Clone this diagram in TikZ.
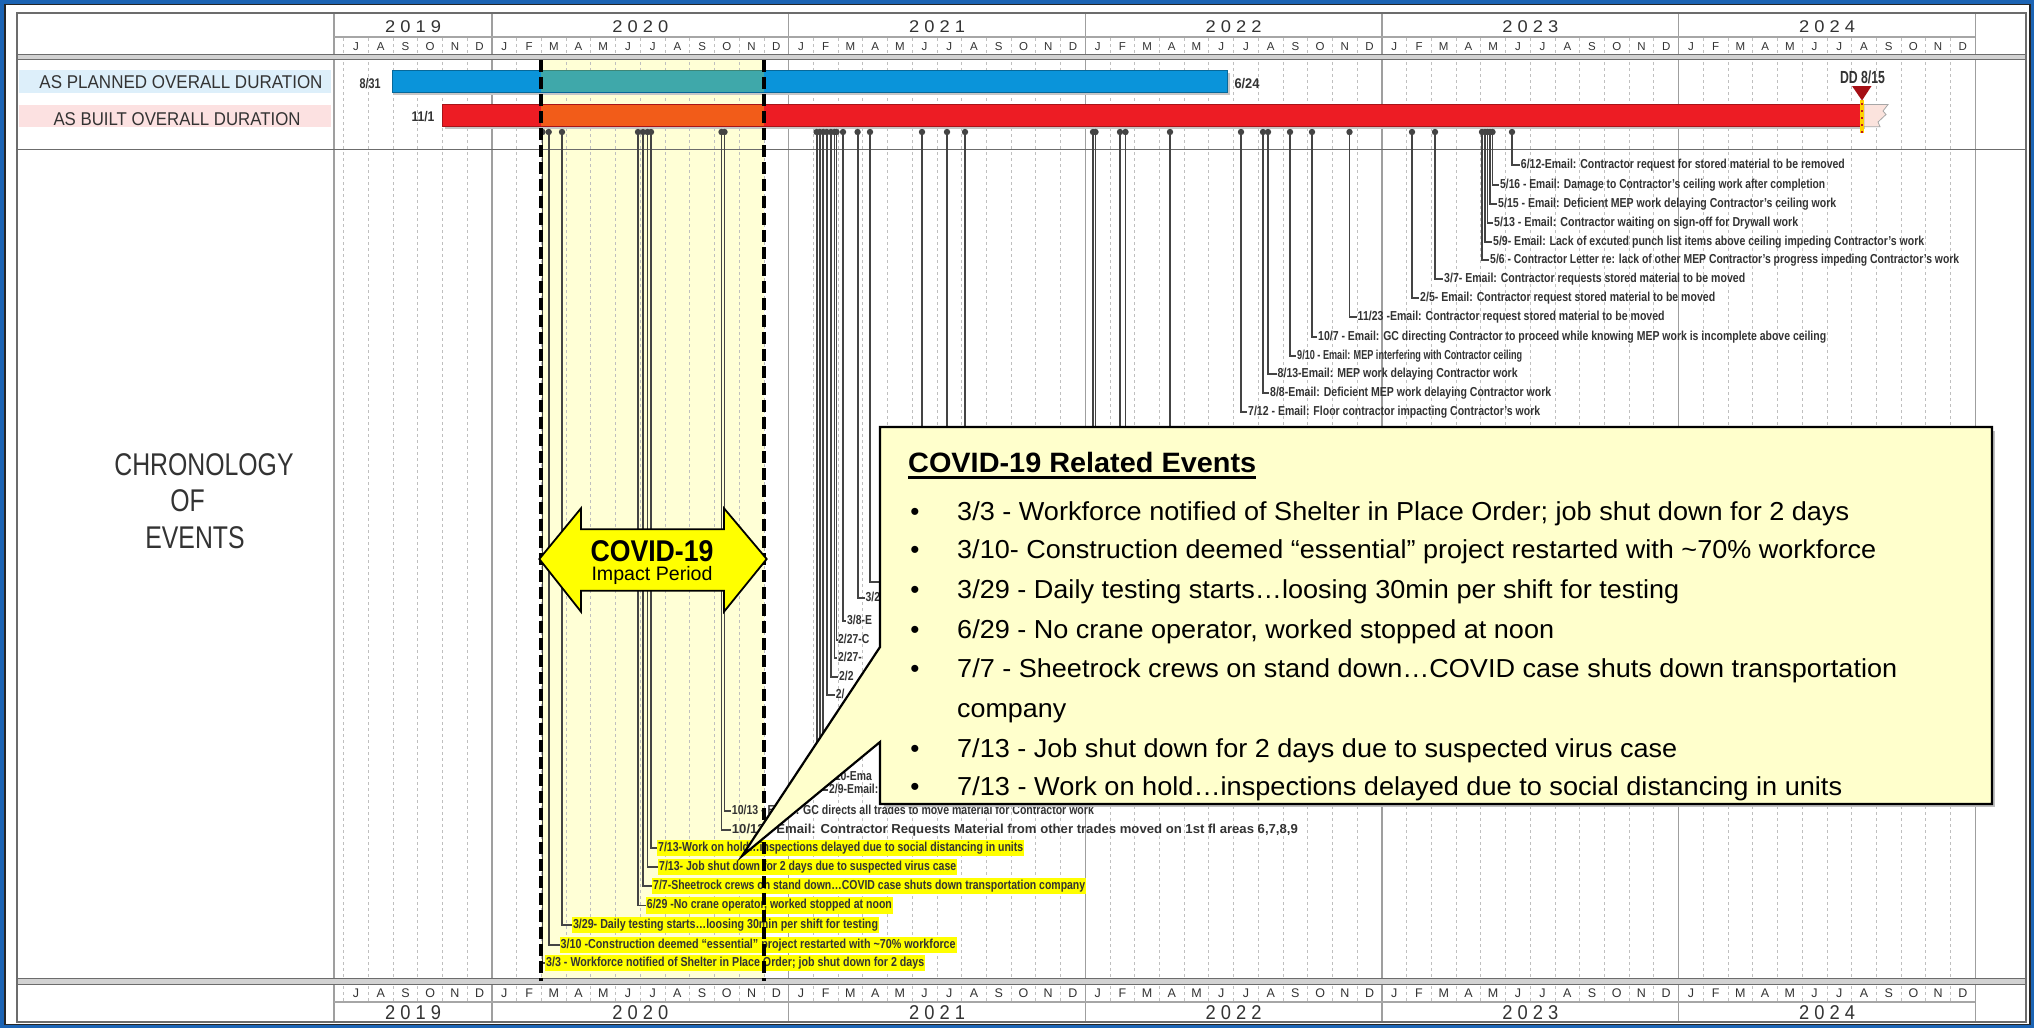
\documentclass[tikz,border=0pt]{standalone}
\usepackage{fontspec}
\setmainfont{Liberation Sans}
\usepackage{graphicx}
\usetikzlibrary{calc}
\definecolor{frameblue}{HTML}{1C64B4}
\definecolor{planblue}{HTML}{0A94DA}
\definecolor{builtred}{HTML}{ED1C24}
\definecolor{covidbg}{HTML}{FFFFD6}
\definecolor{calloutbg}{HTML}{FFFFCC}
\definecolor{txtgray}{HTML}{333333}
\definecolor{linegray}{HTML}{444444}
\definecolor{bandblue}{HTML}{DDEFFA}
\definecolor{bandpink}{HTML}{FCE1E1}
\definecolor{ddred}{HTML}{A50F15}
\definecolor{flagpink}{HTML}{FBE3DD}
\definecolor{hlyellow}{HTML}{FFFF00}
\definecolor{ddyellow}{HTML}{FFD200}
\tikzset{
 evline/.style={draw=linegray, line width=1.8pt},
 evdot/.style={fill=linegray},
 lab/.style={inner xsep=1pt, inner ysep=1pt, text=txtgray, text height=9.5pt, text depth=2.6pt, font=\fontsize{13}{14}\selectfont\bfseries},
 covlab/.style={lab, fill=hlyellow, inner ysep=2.2pt},
 mgrid/.style={draw=gray!50, line width=0.8pt, dash pattern=on 3pt off 3pt},
 yline/.style={draw=gray!75, line width=1.2pt},
 hline/.style={draw=gray!85!black, line width=1.3pt},
 mon/.style={inner sep=0pt, anchor=base, text=txtgray, font=\fontsize{11.5}{12}\selectfont},
 bmon/.style={mon, font=\fontsize{12.5}{13}\selectfont},
 yr/.style={inner sep=0pt, anchor=base, text=txtgray, font=\fontsize{17}{18}\selectfont},
 byr/.style={yr, font=\fontsize{20}{21}\selectfont},
 covdash/.style={draw=black, line width=4pt, dash pattern=on 12pt off 5pt},
 cotext/.style={inner sep=0pt, anchor=base west, font=\fontsize{26}{28}\selectfont},
 bul/.style={inner sep=0pt, anchor=base, font=\fontsize{26}{28}\selectfont},
 plain/.style={inner sep=0pt, anchor=base, text=txtgray},
}
\newcommand\ev[7]{%
  \coordinate (#1d) at (#2,132);
  \node[#6, anchor=west] (#1) at (#4,#3) {\resizebox{#5pt}{\height}{#7}};
  \draw[evline] (#1d) |- (#1.west);
  \fill[evdot] (#1d) circle (3.2);
}
\newcommand\evf[5]{%
  \coordinate (#1d) at (#2,132);
  \node[lab, anchor=west] (#1) at (#4,#3) {\scalebox{0.8}[1]{#5}};
  \draw[evline] (#1d) |- (#1.west);
  \fill[evdot] (#1d) circle (3.2);
}
\begin{document}
\begin{tikzpicture}[x=1pt,y=-1pt]
\useasboundingbox (0,0) rectangle (2034,1028);
\fill[frameblue] (0,0) rectangle (2034,1028);
\filldraw[fill=white, draw=black!85, line width=1.5pt] (5,4.5) rectangle (2030,1024.5);
% covid region background
\fill[covidbg] (541.4,60) rectangle (763.9,979);
% label bands
\fill[bandblue] (19,70) rectangle (331,92.7);
\fill[bandpink] (19,104.5) rectangle (331,126.7);
% month grid
\foreach \k in {0,...,65} \draw[mgrid] ({343.68+24.72*\k},38) -- ({343.68+24.72*\k},1001);
% year lines
\foreach \k in {6,18,30,42,54} \draw[yline] ({343.68+24.72*\k},13) -- ({343.68+24.72*\k},1022);
\draw[yline] (334,13) -- (334,1022);
\draw[yline] (1975.2,13) -- (1975.2,1022);
% horizontal rules
\draw[gray!70, line width=2pt] (334,37) -- (1975.2,37);
\fill[gray!35] (17,54.5) rectangle (2026,59.5);
\draw[hline] (17,54.5) -- (2026,54.5);
\draw[hline] (17,59.5) -- (2026,59.5);
\draw[hline, line width=1.6pt] (17,149.5) -- (2026,149.5);
\fill[gray!35] (17,978.5) rectangle (2026,984.5);
\draw[hline] (17,978.5) -- (2026,978.5);
\draw[hline] (17,984.5) -- (2026,984.5);
\draw[gray!70, line width=2pt] (334,1001.5) -- (1975.2,1001.5);
\draw[gray!85!black, line width=2.2pt] (17,13) rectangle (2026,1022);
% months
\foreach \L [count=\i from 0] in {J,A,S,O,N,D}{
  \node[mon] (tm\i) at ({343.68+24.72*(\i+0.5)},50) {\L};
  \node[bmon] (bm\i) at ({343.68+24.72*(\i+0.5)},997.5) {\L};
}
\foreach \yy in {0,...,4}{
 \foreach \L [count=\i from 0] in {J,F,M,A,M,J,J,A,S,O,N,D}{
  \pgfmathsetmacro\xx{343.68+24.72*(6+12*\yy+\i+0.5)}
  \node[mon] (tm-\yy-\i) at (\xx,50) {\L};
  \node[bmon] (bm-\yy-\i) at (\xx,997.5) {\L};
 }}
% years
\foreach \Y/\cx [count=\j] in {2 0 1 9/413,2 0 2 0/640.3,2 0 2 1/937,2 0 2 2/1233.6,2 0 2 3/1530.3,2 0 2 4/1827}{
  \node[yr] (ty\j) at (\cx,32.3) {\resizebox{56pt}{\height}{\Y}};
  \node[byr] (by\j) at (\cx,1019) {\resizebox{56pt}{\height}{\Y}};
}
% left labels
\node[plain] (apl) at (181,88.3) {\resizebox{283pt}{\height}{\fontsize{18.5}{19}\selectfont AS PLANNED OVERALL DURATION}};
\node[plain] (abl) at (177,125) {\resizebox{247pt}{\height}{\fontsize{18.5}{19}\selectfont AS BUILT OVERALL DURATION}};
\node[plain] (ch1) at (204,475) {\scalebox{0.79}[1]{\fontsize{31.4}{32}\selectfont CHRONOLOGY}};
\node[plain] (ch2) at (187.5,511.7) {\scalebox{0.79}[1]{\fontsize{31.4}{32}\selectfont OF}};
\node[plain] (ch3) at (195,548.3) {\scalebox{0.79}[1]{\fontsize{31.4}{32}\selectfont EVENTS}};
% bars
\fill[gray!45] (394.3,72.5) rectangle (1229.8,95);
\filldraw[fill=planblue, draw=planblue!70!black, line width=0.8pt] (392.3,70) rectangle (1227.8,92.7);
\fill[gray!45] (444.6,107) rectangle (1864.8,129);
\filldraw[fill=builtred, draw=builtred!70!black, line width=0.8pt] (442.6,104.5) rectangle (1862.8,126.7);
\fill[yellow, opacity=0.22] (541.4,70.4) rectangle (763.9,92.3);
\fill[yellow, opacity=0.3] (541.4,104.9) rectangle (763.9,126.3);
\node[plain] (p1) at (370,88) {\resizebox{21pt}{\height}{\fontsize{14}{14}\selectfont\bfseries 8/31}};
\node[plain] (b1) at (423,121.7) {\resizebox{23pt}{\height}{\fontsize{14}{14}\selectfont\bfseries 11/1}};
\node[plain] (p2) at (1247,88) {\resizebox{25pt}{\height}{\fontsize{14}{14}\selectfont\bfseries 6/24}};
% hidden event lines (behind callout)
\foreach \hx [count=\n] in {922,947,965,1093,1095.5,1120,1125.5,1170}{
  \coordinate (hd\n) at (\hx,132); \coordinate (he\n) at (\hx,445);
  \draw[evline] (hd\n) -- (he\n); \fill[evdot] (hd\n) circle (3.2);
}
\coordinate (g1d) at (870,132); \coordinate (g1e) at (879,582);
\draw[evline] (g1d) |- (g1e); \fill[evdot] (g1d) circle (3.2);
\coordinate (g2d) at (823.3,132); \coordinate (g2e) at (852,761.7);
\draw[evline] (g2d) |- (g2e); \fill[evdot] (g2d) circle (3.2);
% 2021 fragments
\evf{f1}{857.6}{598}{864.5}{3/2}
\evf{f2}{843}{621}{846}{3/8-E}
\evf{f3}{836.5}{640}{837}{2/27-C}
\evf{f4}{834.5}{658}{837}{2/27-}
\evf{f5}{830.9}{677}{838}{2/2}
\evf{f6}{826.8}{695}{834.7}{2/}
\evf{f8}{819.7}{777}{825}{2/10-Ema}
\evf{f9}{816.6}{790}{828}{2/9-Email:}
% upper events
\ev{u1}{1512}{165}{1519.7}{324}{lab}{6/12-Email: Contractor request for stored material to be removed}
\ev{u2}{1492.5}{185}{1499}{325}{lab}{5/16 - Email: Damage to Contractor’s ceiling work after completion}
\ev{u3}{1490}{204}{1497}{338}{lab}{5/15 - Email: Deficient MEP work delaying Contractor’s ceiling work}
\ev{u4}{1487.5}{222.7}{1493}{304}{lab}{5/13 - Email: Contractor waiting on sign-off for Drywall work}
\ev{u5}{1485}{241.7}{1492}{431}{lab}{5/9- Email: Lack of excuted punch list items above ceiling impeding Contractor’s work}
\ev{u6}{1482}{260}{1489}{469}{lab}{5/6 - Contractor Letter re: lack of other MEP Contractor's progress impeding Contractor's work}
\ev{u7}{1435}{279}{1443}{301}{lab}{3/7- Email: Contractor requests stored material to be moved}
\ev{u8}{1412}{298}{1419}{295}{lab}{2/5- Email: Contractor request stored material to be moved}
\ev{u9}{1349.5}{317}{1356.5}{307}{lab}{11/23 -Email: Contractor request stored material to be moved}
\ev{u10}{1312}{336.7}{1317}{508}{lab}{10/7 - Email: GC directing Contractor to proceed while knowing MEP work is incomplete above ceiling}
\ev{u11}{1290}{355.7}{1296}{225}{lab}{9/10 - Email: MEP interfering with Contractor ceiling}
\ev{u12}{1268}{374}{1276.5}{240}{lab}{8/13-Email: MEP work delaying Contractor work}
\ev{u13}{1263}{393}{1269}{281}{lab}{8/8-Email: Deficient MEP work delaying Contractor work}
\ev{u14}{1241}{411.7}{1247}{292}{lab}{7/12 - Email: Floor contractor impacting Contractor’s work}
% October 2020 events
\ev{o1}{724.5}{811}{730.7}{362}{lab}{10/13 - Email: GC directs all trades to move material for Contractor work}
\ev{o2}{721.5}{830}{730.7}{566}{lab}{10/12 - Email: Contractor Requests Material from other trades moved on 1st fl areas 6,7,8,9}
% COVID events
\ev{c1}{542.5}{963}{545}{378}{covlab}{3/3 - Workforce notified of Shelter in Place Order; job shut down for 2 days}
\ev{c2}{548.7}{945}{559.5}{395}{covlab}{3/10 -Construction deemed “essential” project restarted with \textasciitilde70\% workforce}
\ev{c3}{562}{925}{571.8}{305}{covlab}{3/29- Daily testing starts…loosing 30min per shift for testing}
\ev{c4}{638}{905.5}{645.7}{245}{covlab}{6/29 -No crane operator, worked stopped at noon}
\ev{c5}{643}{886}{652}{432}{covlab}{7/7-Sheetrock crews on stand down…COVID case shuts down transportation company}
\ev{c6}{647.5}{867}{658}{297}{covlab}{7/13- Job shut down for 2 days due to suspected virus case}
\ev{c7}{651}{848}{657}{365}{covlab}{7/13-Work on hold…inspections delayed due to social distancing in units}
% COVID period boundaries
\coordinate (cs1) at (541.4,60); \coordinate (cs2) at (541.4,981);
\coordinate (ce1) at (763.9,60); \coordinate (ce2) at (763.9,981);
\draw[covdash] (cs1) -- (cs2);
\draw[covdash] (ce1) -- (ce2);
% double arrow
\filldraw[fill=hlyellow, draw=black, line width=1.8pt, line join=miter] (539.3,559) -- (581,508.3) -- (581,529.3) -- (724,529.3) -- (724,508.3) -- (766.7,559) -- (724,611.7) -- (724,590.7) -- (581,590.7) -- (581,611.7) -- cycle;
\node[inner sep=0pt, anchor=base] (cv1) at (652,561.5) {\resizebox{123pt}{\height}{\fontsize{30}{30}\selectfont\bfseries COVID-19}};
\node[inner sep=0pt, anchor=base] (cv2) at (652,580.5) {\resizebox{121pt}{\height}{\fontsize{19.5}{20}\selectfont Impact Period}};
% DD marker
\filldraw[fill=flagpink, draw=gray!70, line width=0.8pt] (1864,104.5) -- (1888,104.5) -- (1883,111) -- (1886,114.5) -- (1878,122) -- (1880,126.7) -- (1864,126.7) -- cycle;
\draw[ddyellow, line width=4.5pt] (1862,100) -- (1862,133);
\draw[builtred!80!black, line width=2pt, dash pattern=on 2pt off 5pt] (1862,103) -- (1862,133);
\fill[ddred] (1852,86) -- (1871.5,86) -- (1862,100.5) -- cycle;
\node[plain] (dd) at (1862.5,83) {\resizebox{45pt}{\height}{\fontsize{17.5}{18}\selectfont\bfseries DD 8/15}};
% callout
\fill[gray!50] (884,431) rectangle (1995,807);
\filldraw[fill=calloutbg, draw=black, line width=2.2pt, line join=miter] (880,427) -- (1992,427) -- (1992,804) -- (880,804) -- (880,742) -- (742,856) -- (880,647) -- cycle;
\node[inner sep=0pt, anchor=base west] (ttl) at (908,472) {\resizebox{348pt}{\height}{\fontsize{28}{30}\selectfont\bfseries COVID-19 Related Events}};
\draw[line width=2.5pt] ($(ttl.base west)+(0,5.5)$) -- ($(ttl.base east)+(0,5.5)$);
\node[bul] (cb1) at (915,520) {•};
\node[cotext] (cl1) at (957,520) {\resizebox{892pt}{\height}{3/3 - Workforce notified of Shelter in Place Order; job shut down for 2 days}};
\node[bul] (cb2) at (915,558) {•};
\node[cotext] (cl2) at (957,558) {\resizebox{919pt}{\height}{3/10- Construction deemed “essential” project restarted with \textasciitilde70\% workforce}};
\node[bul] (cb3) at (915,598) {•};
\node[cotext] (cl3) at (957,598) {\resizebox{722pt}{\height}{3/29 - Daily testing starts…loosing 30min per shift for testing}};
\node[bul] (cb4) at (915,638) {•};
\node[cotext] (cl4) at (957,638) {\resizebox{597pt}{\height}{6/29 - No crane operator, worked stopped at noon}};
\node[bul] (cb5) at (915,677) {•};
\node[cotext] (cl5) at (957,677) {\resizebox{940pt}{\height}{7/7 - Sheetrock crews on stand down…COVID case shuts down transportation}};
\node[cotext] (cl5b) at (957,717) {\resizebox{109pt}{\height}{company}};
\node[bul] (cb6) at (915,757) {•};
\node[cotext] (cl6) at (957,757) {\resizebox{720pt}{\height}{7/13 - Job shut down for 2 days due to suspected virus case}};
\node[bul] (cb7) at (915,795) {•};
\node[cotext] (cl7) at (957,795) {\resizebox{885pt}{\height}{7/13 - Work on hold…inspections delayed due to social distancing in units}};
\end{tikzpicture}
\end{document}
